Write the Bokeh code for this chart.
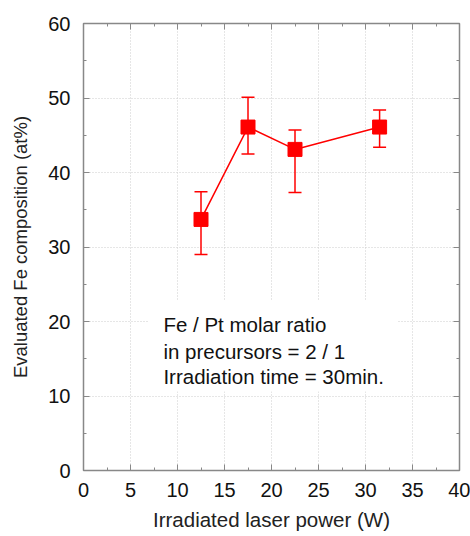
from bokeh.plotting import figure
from bokeh.models import (ColumnDataSource, Whisker, TeeHead, LinearAxis, Label,
                          BoxAnnotation, FixedTicker, Range1d)
from bokeh.embed import file_html
from bokeh.resources import INLINE

power = [12.5, 17.5, 22.5, 31.5]
fe_comp = [33.7, 46.1, 43.1, 46.1]
err_upper = [37.4, 50.1, 45.7, 48.4]
err_lower = [29.0, 42.5, 37.3, 43.4]
x_ticks = [0, 5, 10, 15, 20, 25, 30, 35, 40]
y_ticks = [0, 10, 20, 30, 40, 50, 60]
note_lines = ["Fe / Pt molar ratio", "in precursors = 2 / 1", "Irradiation time = 30min."]

FONT = "Liberation Sans"
RED = "#ff0000"

p = figure(width=470, height=536, output_backend="svg", toolbar_location=None,
           x_range=Range1d(0, 40), y_range=Range1d(0, 60),
           min_border_left=83, min_border_right=11, min_border_top=23, min_border_bottom=66)
p.background_fill_color = "white"
p.border_fill_color = "white"
p.outline_line_color = "#888888"
p.outline_line_width = 1.5

for ax in (p.xaxis[0], p.yaxis[0]):
    ax.major_label_text_font = FONT
    ax.major_label_text_font_size = "20px"
    ax.major_label_text_color = "#111111"
    ax.axis_label_text_font = FONT
    ax.axis_label_text_font_style = "normal"
    ax.axis_label_text_color = "#222222"
    ax.axis_line_color = "#888888"
    ax.major_tick_line_color = "#888888"
    ax.minor_tick_line_color = "#888888"
    ax.major_tick_in = 6
    ax.major_tick_out = 0
    ax.minor_tick_in = 3
    ax.minor_tick_out = 0

p.xaxis[0].ticker = FixedTicker(ticks=x_ticks, minor_ticks=[x + 2.5 for x in x_ticks[:-1]])
p.yaxis[0].ticker = FixedTicker(ticks=y_ticks, minor_ticks=[y + 5 for y in y_ticks[:-1]])
p.xaxis[0].axis_label = "Irradiated laser power (W)"
p.yaxis[0].axis_label = "Evaluated Fe composition (at%)"
p.xaxis[0].axis_label_text_font_size = "20.5px"
p.yaxis[0].axis_label_text_font_size = "18.5px"
p.xaxis[0].major_label_standoff = 12
p.yaxis[0].major_label_standoff = 13
p.xaxis[0].axis_label_standoff = 8
p.yaxis[0].axis_label_standoff = 14

top_ax = LinearAxis(ticker=FixedTicker(ticks=x_ticks, minor_ticks=[x + 2.5 for x in x_ticks[:-1]]))
right_ax = LinearAxis(ticker=FixedTicker(ticks=y_ticks, minor_ticks=[y + 5 for y in y_ticks[:-1]]))
for ax in (top_ax, right_ax):
    ax.major_label_text_font_size = "0px"
    ax.major_label_text_alpha = 0
    ax.axis_line_color = "#888888"
    ax.major_tick_line_color = "#888888"
    ax.minor_tick_line_color = "#888888"
    ax.major_tick_in = 6
    ax.major_tick_out = 0
    ax.minor_tick_in = 3
    ax.minor_tick_out = 0
    ax.major_label_standoff = 0
p.add_layout(top_ax, "above")
p.add_layout(right_ax, "right")

p.xgrid.ticker = FixedTicker(ticks=x_ticks)
p.ygrid.ticker = FixedTicker(ticks=y_ticks)
for g in (p.xgrid, p.ygrid):
    g.grid_line_color = "#cccccc"
    g.grid_line_dash = "1 2"
    g.grid_line_width = 1

# white box behind the note
p.add_layout(BoxAnnotation(left=6.9, right=33.4, bottom=10.6, top=22.8,
                           fill_color="white", fill_alpha=1, line_alpha=0, level="underlay"))

src = ColumnDataSource(dict(x=power, y=fe_comp, up=err_upper, lo=err_lower))
p.line("x", "y", source=src, line_color=RED, line_width=1.5)
p.add_layout(Whisker(source=src, base="x", upper="up", lower="lo", line_color=RED, line_width=1.5,
                     upper_head=TeeHead(size=13, line_color=RED, line_width=1.5),
                     lower_head=TeeHead(size=13, line_color=RED, line_width=1.5)))
p.scatter("x", "y", source=src, marker="square", size=14, fill_color=RED, line_color=RED)

note_y = [19.6, 16.0, 12.6]
for t, yy in zip(note_lines, note_y):
    p.add_layout(Label(x=8.5, y=yy, text=t, text_font=FONT, text_font_size="20.5px",
                       text_color="#111111", text_baseline="middle"))

open("out.html", "w").write(file_html(p, INLINE))
